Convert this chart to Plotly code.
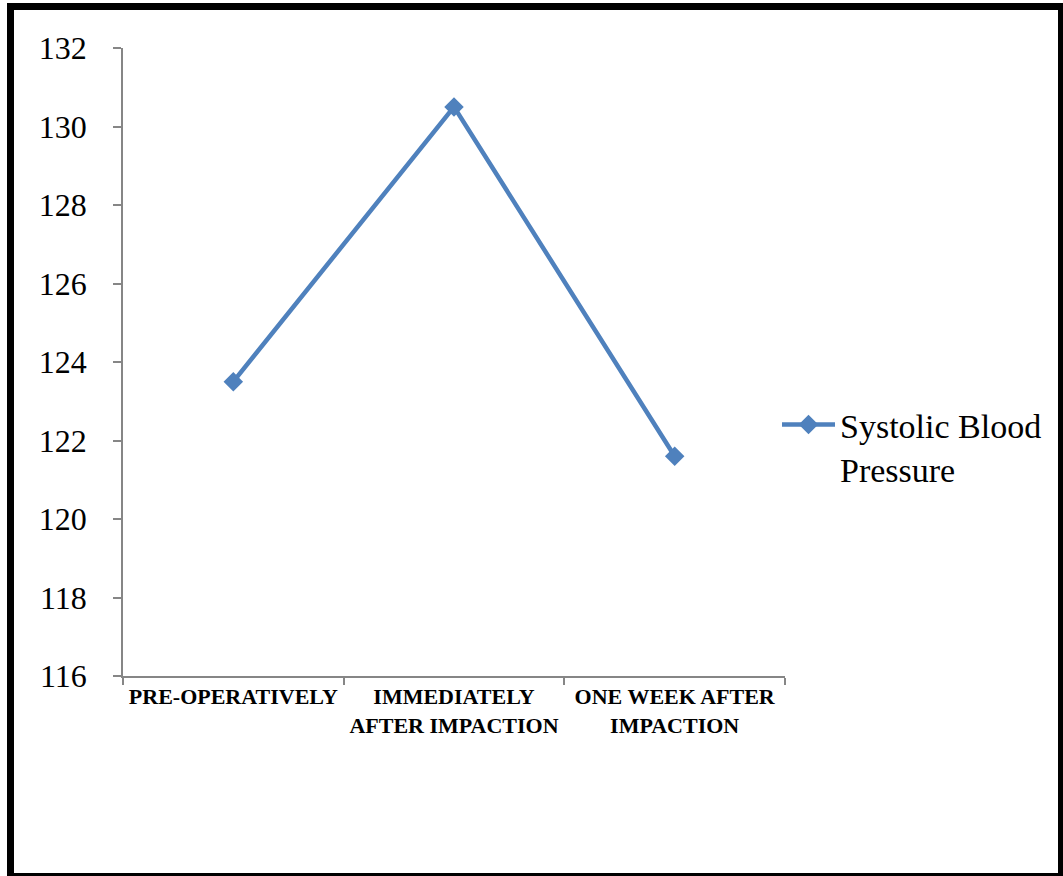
import plotly.graph_objects as go

categories = ["PRE-OPERATIVELY", "IMMEDIATELY<br>AFTER IMPACTION", "ONE WEEK AFTER<br>IMPACTION"]
systolic = [123.5, 130.5, 121.6]
series_name = "Systolic Blood<br>Pressure"
y_ticks = [116, 118, 120, 122, 124, 126, 128, 130, 132]

W, H = 1063, 876
L, R, T, B = 123, 785, 48, 676  # plot-area pixel box

BLUE = "#4F81BD"
GRID = "#868686"
SERIF = '"Times New Roman", "Liberation Serif", Times, serif'

fig = go.Figure()
fig.add_trace(go.Scatter(
    x=categories, y=systolic, name=series_name,
    mode="lines+markers",
    line=dict(color=BLUE, width=4.5),
    marker=dict(symbol="diamond", size=15, color=BLUE),
    showlegend=True,
))


def px_x(p):
    return (p - L) / (R - L)


def px_y(p):
    return (B - p) / (B - T)


# frame around the whole graphic (thick left/top, thinner right/bottom)
frame = [
    (7, 3, 14, 876),
    (7, 3, 1063, 10),
    (1058, 3, 1063, 876),
    (7, 873, 1063, 876),
]
shapes = []
for x0, y0, x1, y1 in frame:
    shapes.append(dict(
        type="rect", xref="paper", yref="paper",
        x0=px_x(x0), x1=px_x(x1), y0=px_y(y1), y1=px_y(y0),
        fillcolor="black", line=dict(width=0), layer="above",
    ))

fig.update_layout(
    width=W, height=H,
    margin=dict(l=L, r=W - R, t=T, b=H - B, pad=0),
    paper_bgcolor="white", plot_bgcolor="white",
    font=dict(family=SERIF, color="black"),
    shapes=shapes,
    xaxis=dict(
        type="category",
        tickson="boundaries",
        ticks="outside", ticklen=7, tickcolor=GRID, tickwidth=1.5,
        showline=True, linecolor=GRID, linewidth=1.5,
        showgrid=False, zeroline=False,
        tickfont=dict(family=SERIF, size=22, color="black", weight="bold"),
        range=[-0.5, 2.5],
    ),
    yaxis=dict(
        range=[116, 132],
        tickvals=y_ticks,
        ticktext=[str(v) for v in y_ticks],
        ticks="outside", ticklen=8, tickcolor=GRID, tickwidth=1.5,
        showline=True, linecolor=GRID, linewidth=1.5,
        showgrid=False, zeroline=False,
        ticklabelstandoff=20,
        tickfont=dict(family=SERIF, size=32, color="black"),
    ),
    legend=dict(
        x=px_x(777), xanchor="left",
        y=px_y(447), yanchor="middle",
        font=dict(family=SERIF, size=34, color="black"),
        valign="top",
        bgcolor="rgba(0,0,0,0)",
        itemwidth=53,
    ),
)

fig.write_html("out.html")
